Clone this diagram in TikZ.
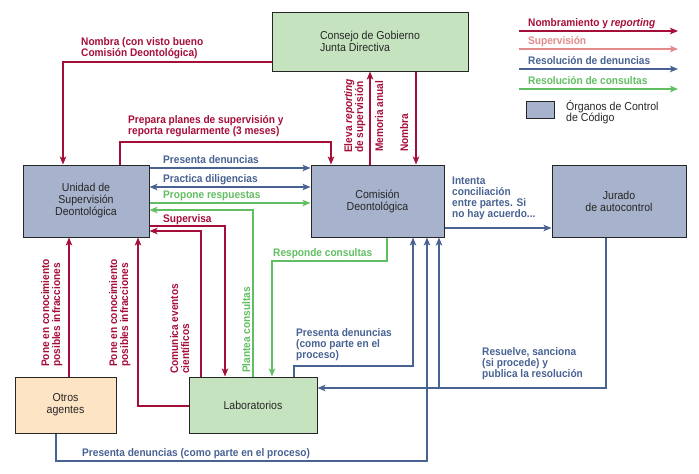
\documentclass[tikz,border=0pt]{standalone}
\usepackage{fontspec}
\setmainfont{Liberation Sans}[FakeStretch=0.92]
\usetikzlibrary{arrows.meta}
\definecolor{cred}{RGB}{166,14,58}
\definecolor{cpink}{RGB}{226,138,138}
\definecolor{cblue}{RGB}{72,98,146}
\definecolor{cgreen}{RGB}{98,190,98}
\definecolor{fblue}{RGB}{167,178,204}
\definecolor{fgreen}{RGB}{198,227,191}
\definecolor{fpeach}{RGB}{253,228,196}
\tikzset{
  box/.style={draw=black!85, line width=1pt, inner sep=0pt, align=center,
    font=\fontsize{11.5}{12}\selectfont, text=black!85},
  conn/.style={line width=1.8pt, -{Stealth[length=8pt,width=6.5pt,inset=2pt]}},
  dconn/.style={line width=1.8pt, {Stealth[length=8pt,width=6.5pt,inset=2pt]}-{Stealth[length=8pt,width=6.5pt,inset=2pt]}},
  lbl/.style={inner sep=0pt, align=left, font=\bfseries\fontsize{11}{11}\selectfont},
  rlbl/.style={lbl, rotate=90, anchor=north west},
}
\begin{document}
\begin{tikzpicture}[x=1pt,y=-1pt]
\useasboundingbox (0,0) rectangle (699,474);
% boxes
\node[box, fill=fgreen, minimum width=196pt, minimum height=59pt, align=left] (cg) at (370,41.5) {Consejo de Gobierno\\Junta Directiva};
\node[box, fill=fblue, minimum width=126pt, minimum height=72pt] (un) at (86,201) {Unidad de\\Supervisión\\Deontológica};
\node[box, fill=fblue, minimum width=133pt, minimum height=72pt] (cd) at (377.5,201) {Comisión\\Deontológica};
\node[box, fill=fblue, minimum width=134pt, minimum height=72pt] (ja) at (619,201) {Jurado\\de autocontrol};
\node[box, fill=fpeach, minimum width=101pt, minimum height=56pt] (oa) at (65.5,405) {Otros\\agentes};
\node[box, fill=fgreen, minimum width=128pt, minimum height=56pt] (lab) at (253,405) {Laboratorios};
% legend
\coordinate (l1s) at (519,31); \coordinate (l1e) at (678,31);
\coordinate (l2s) at (519,49); \coordinate (l2e) at (678,49);
\coordinate (l3s) at (519,69); \coordinate (l3e) at (678,69);
\coordinate (l4s) at (519,89); \coordinate (l4e) at (678,89);
\draw[conn, cred] (l1s) -- (l1e);
\draw[conn, cpink] (l2s) -- (l2e);
\draw[conn, cblue] (l3s) -- (l3e);
\draw[conn, cgreen] (l4s) -- (l4e);
\node[lbl, text=cred, anchor=base west] (t1) at (528,26.5) {Nombramiento y \textit{reporting}};
\node[lbl, text=cpink, anchor=base west] (t2) at (528,44.5) {Supervisión};
\node[lbl, text=cblue, anchor=base west] (t3) at (528,64.5) {Resolución de denuncias};
\node[lbl, text=cgreen, anchor=base west] (t4) at (528,84.5) {Resolución de consultas};
\node[box, fill=fblue, minimum width=28pt, minimum height=17pt] (lg) at (540,109.5) {};
\node[inner sep=0pt, align=left, anchor=north west, font=\fontsize{11.5}{11}\selectfont, text=black!85] (lgt) at (566,100) {Órganos de Control\\de Código};
% 1 Nombra (con visto bueno)
\coordinate (a1) at (63,62);
\draw[conn, cred] (cg.west |- a1) -- (a1) -- (un.north -| a1);
\node[lbl, text=cred, anchor=north west] (n1) at (81,37) {Nombra (con visto bueno\\Comisión Deontológica)};
% 2 Prepara planes
\coordinate (a2) at (120,142); \coordinate (a3) at (331,142);
\draw[conn, cred] (un.north -| a2) -- (a2) -- (a3) -- (cd.north -| a3);
\node[lbl, text=cred, anchor=north west] (n2) at (128,115) {Prepara planes de supervisión y\\reporta regularmente (3 meses)};
% 3 Eleva reporting / Memoria anual
\coordinate (a4) at (370,100);
\draw[conn, cred] (cd.north -| a4) -- (cg.south -| a4);
\node[rlbl, text=cred] (n3) at (344,153) {Eleva \textit{reporting}\\de supervisión};
\node[rlbl, text=cred] (n4) at (375,152) {Memoria anual};
% 4 Nombra
\coordinate (a5) at (416,100);
\draw[conn, cred] (cg.south -| a5) -- (cd.north -| a5);
\node[rlbl, text=cred] (n5) at (400,152) {Nombra};
% 5 Presenta denuncias
\coordinate (b1) at (200,168);
\draw[conn, cblue] (un.east |- b1) -- (cd.west |- b1);
\node[lbl, text=cblue, anchor=base west] (n6) at (163,163.5) {Presenta denuncias};
% 6 Practica diligencias
\coordinate (b2) at (200,187);
\draw[dconn, cblue] (un.east |- b2) -- (cd.west |- b2);
\node[lbl, text=cblue, anchor=base west] (n7) at (163,182) {Practica diligencias};
% 7 Propone respuestas
\coordinate (b3) at (200,203);
\draw[conn, cgreen] (un.east |- b3) -- (cd.west |- b3);
\node[lbl, text=cgreen, anchor=base west] (n8) at (163,198) {Propone respuestas};
% 8 Plantea consultas
\coordinate (g1) at (253,210);
\draw[conn, cgreen] (lab.north -| g1) -- (g1) -- (un.east |- g1);
\node[rlbl, text=cgreen] (n9) at (242,373) {Plantea consultas};
% 9 Supervisa
\coordinate (r1) at (225,226);
\draw[conn, cred] (un.east |- r1) -- (r1) -- (lab.north -| r1);
\node[lbl, text=cred, anchor=base west] (n10) at (163,222) {Supervisa};
% 10 Comunica eventos
\coordinate (r2) at (201,231);
\draw[conn, cred] (lab.north -| r2) -- (r2) -- (un.east |- r2);
\node[rlbl, text=cred] (n11) at (170,374) {Comunica eventos\\científicos};
% 11 Responde consultas
\coordinate (g2) at (387,261); \coordinate (g3) at (272,261);
\draw[conn, cgreen] (cd.south -| g2) -- (g2) -- (g3) -- (lab.north -| g3);
\node[lbl, text=cgreen, anchor=base west] (n12) at (273,256.5) {Responde consultas};
% 12 Pone en conocimiento (Otros)
\coordinate (r3) at (69,300);
\draw[conn, cred] (oa.north -| r3) -- (un.south -| r3);
\node[rlbl, text=cred] (n13) at (41,367) {Pone en conocimiento\\posibles infracciones};
% 13 Pone en conocimiento (Lab)
\coordinate (r4) at (138,406);
\draw[conn, cred] (lab.west |- r4) -- (r4) -- (un.south -| r4);
\node[rlbl, text=cred] (n14) at (109,367) {Pone en conocimiento\\posibles infracciones};
% 14 Presenta denuncias (Lab)
\coordinate (c1) at (294,366); \coordinate (c2) at (413,366);
\draw[conn, cblue] (lab.north -| c1) -- (c1) -- (c2) -- (cd.south -| c2);
\node[lbl, text=cblue, anchor=north west] (n15) at (296,328) {Presenta denuncias\\(como parte en el\\proceso)};
% 15 Presenta denuncias (Otros)
\coordinate (c3) at (56,461); \coordinate (c4) at (427,461);
\draw[conn, cblue] (oa.south -| c3) -- (c3) -- (c4) -- (cd.south -| c4);
\node[lbl, text=cblue, anchor=base west] (n16) at (82,456) {Presenta denuncias (como parte en el proceso)};
% 16 Resuelve, sanciona
\coordinate (c5) at (606,388); \coordinate (c6) at (439,388);
\draw[conn, cblue] (ja.south -| c5) -- (c5) -- (lab.east |- c5);
\draw[conn, cblue] (c6) -- (cd.south -| c6);
\node[lbl, text=cblue, anchor=north west] (n17) at (482,347) {Resuelve, sanciona\\(si procede) y\\publica la resolución};
% 17 Intenta conciliacion
\coordinate (c7) at (500,228);
\draw[conn, cblue] (cd.east |- c7) -- (ja.west |- c7);
\node[lbl, text=cblue, anchor=north west] (n18) at (452,177) {Intenta\\conciliación\\entre partes. Si\\no hay acuerdo...};
\end{tikzpicture}
\end{document}
